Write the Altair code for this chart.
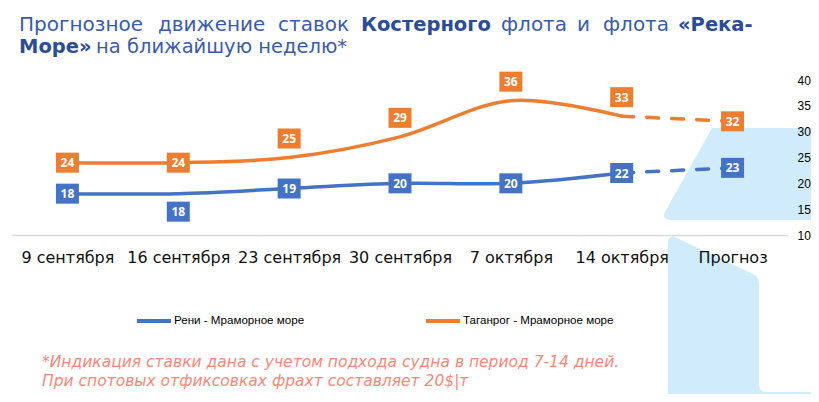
import altair as alt
import pandas as pd

# ---------------- data ----------------
dates = ["9 сентября", "16 сентября", "23 сентября", "30 сентября",
         "7 октября", "14 октября", "Прогноз"]
reni = [18, 18, 19, 20, 20, 22, 23]
taganrog = [24, 24, 25, 29, 36, 33, 32]
series_names = ["Рени - Мраморное море", "Таганрог - Мраморное море"]
colors = ["#4472C4", "#ED7D31"]
reni_label_side = ["center", "below", "center", "center", "center", "center", "center"]
taganrog_label_side = ["center", "center", "above", "above", "above", "above", "center"]
y_ticks = [10, 15, 20, 25, 30, 35, 40]

title_line1 = [("Прогнозное", False), ("движение", False), ("ставок", False),
               ("Костерного", True), ("флота", False), ("и", False),
               ("флота", False), ("«Река-", True)]
title_line2 = [("Море»", True), ("на ближайшую неделю*", False)]
footnote = ["*Индикация ставки дана с учетом подхода судна в период 7-14 дней.",
            "При спотовых отфиксовках фрахт составляет 20$|т"]

# ---------------- layout (pixels, chart coordinates) ----------------
W, H = 803, 386
FORECAST_START = 5  # index where the dashed (forecast) segment begins
line1_x = [11, 150, 270, 353, 493, 569, 595, 670]
line2_x = [11, 88]
TITLE_Y1, TITLE_Y2 = 23, 45
FOOT_X, FOOT_Y1, FOOT_Y2 = 34, 359, 378

rows = []
for name, vals, sides in [(series_names[0], reni, reni_label_side),
                          (series_names[1], taganrog, taganrog_label_side)]:
    for i, (d, v, s) in enumerate(zip(dates, vals, sides)):
        rows.append({"date": d, "value": v, "series": name, "idx": i, "side": s})
df = pd.DataFrame(rows)

x_enc = alt.X("date:O",
              scale=alt.Scale(domain=dates, range=[4, 780], padding=0.5),
              axis=alt.Axis(orient="bottom", offset=227 - H, labelAngle=0,
                            labelFont="DejaVu Sans", labelFontSize=16,
                            labelColor="#111111", labelBaseline="alphabetic",
                            labelPadding=27, ticks=False, grid=False,
                            domainColor="#D9D9D9", domainWidth=1.5,
                            labelOverlap=False, title=None, zindex=1))
y_enc = alt.Y("value:Q",
              scale=alt.Scale(domain=[10, 40], range=[227, 72], nice=False, zero=False),
              axis=alt.Axis(orient="right", offset=-15, values=y_ticks, ticks=False,
                            domain=False, grid=False, labelFont="Liberation Sans",
                            labelFontSize=12, labelColor="#000000", labelPadding=1,
                            title=None, zindex=1))
color_scale = alt.Scale(domain=series_names, range=colors)

base = alt.Chart(df).encode(x=x_enc, y=y_enc)

solid = base.transform_filter(alt.datum.idx <= FORECAST_START).mark_line(
    strokeWidth=3.5, interpolate="catmull-rom", strokeCap="round"
).encode(
    color=alt.Color("series:N", scale=color_scale,
                    legend=alt.Legend(orient="none", legendX=127, legendY=294,
                                      direction="horizontal", columns=2,
                                      columnPadding=113, symbolType="stroke",
                                      symbolSize=1156, symbolStrokeWidth=4,
                                      labelFont="Liberation Sans", labelFontSize=11.6,
                                      labelColor="#000000", labelOffset=1,
                                      title=None, padding=0)),
    detail="series:N", order="idx:Q")

dashed = base.transform_filter(alt.datum.idx >= FORECAST_START).mark_line(
    strokeWidth=3.5, strokeDash=[12, 13], strokeCap="round"
).encode(color=alt.Color("series:N", scale=color_scale, legend=None),
         detail="series:N", order="idx:Q")

BOX = "M-1,-0.87L1,-0.87L1,0.87L-1,0.87Z"
offsets = {"center": 0, "above": -19, "below": 18}
box_layers = []
for side, off in offsets.items():
    sub = base.transform_filter(alt.datum.side == side)
    box_layers.append(sub.mark_point(shape=BOX, size=529, filled=True, opacity=1,
                                     strokeWidth=0, yOffset=off)
                      .encode(color=alt.Color("series:N", scale=color_scale, legend=None)))
    box_layers.append(sub.mark_text(color="white", font="Noto Sans", fontWeight="bold",
                                    fontSize=12, baseline="middle", yOffset=off + 0.5)
                      .encode(text="value:Q"))

# decorative light-blue background shapes (custom symbol paths, scale 100 px/unit)
CX, CY = 740, 260


def to_path(cmds):
    out = []
    for c, pts in cmds:
        coords = " ".join(f"{(px - CX) / 100:.3f},{(py - CY) / 100:.3f}" for px, py in pts)
        out.append(f"{c}{coords}")
    return "".join(out) + "Z"


upper = to_path([("M", [(704, 120)]), ("L", [(815, 120)]), ("L", [(815, 212)]),
                 ("L", [(664, 212)]), ("Q", [(652, 212), (658, 202)])])
lower = to_path([("M", [(660, 400)]), ("L", [(660, 236)]),
                 ("Q", [(660, 226), (669, 230)]), ("L", [(747, 267)]),
                 ("Q", [(751, 270), (751, 277)]), ("L", [(751, 376)]),
                 ("Q", [(751, 384), (759, 384)]), ("L", [(815, 384)]),
                 ("L", [(815, 400)])])
one = pd.DataFrame({"k": [0]})
deco = [alt.Chart(one).mark_point(shape=p, size=40000, filled=True, opacity=1,
                                  strokeWidth=0, color="#D0ECFB")
        .encode(x=alt.value(CX), y=alt.value(CY)) for p in (upper, lower)]

# title words
title_layers = []
for words, xs, yy in [(title_line1, line1_x, TITLE_Y1), (title_line2, line2_x, TITLE_Y2)]:
    for (w, bold), xx in zip(words, xs):
        title_layers.append(
            alt.Chart(one).mark_text(align="left", baseline="alphabetic",
                                     font="DejaVu Sans",
                                     fontSize=19.5 if (bold or yy == TITLE_Y2) else 20,
                                     fontWeight="bold" if bold else "normal",
                                     color="#2C4D96" if bold else "#3A5BA9")
            .encode(x=alt.value(xx), y=alt.value(yy), text=alt.value(w)))

foot_layers = [
    alt.Chart(one).mark_text(align="left", baseline="alphabetic", font="DejaVu Sans",
                             fontSize=15.5, fontStyle="italic", color="#F8877B")
    .encode(x=alt.value(FOOT_X), y=alt.value(yy), text=alt.value(t))
    for t, yy in zip(footnote, [FOOT_Y1, FOOT_Y2])
]

chart = alt.layer(*deco, solid, dashed, *box_layers, *title_layers, *foot_layers).properties(
    width=W, height=H, autosize=alt.AutoSizeParams(type="none"), padding=0
).configure_view(strokeWidth=0)

chart.save("out.html", embed_options={"renderer": "svg", "actions": False})
